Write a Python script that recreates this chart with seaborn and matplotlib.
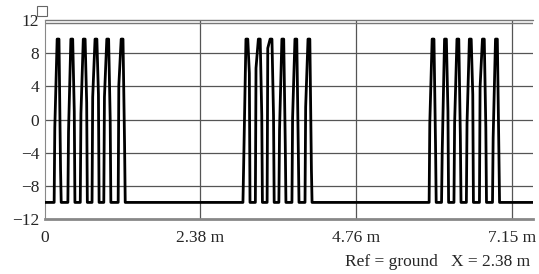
import numpy as np
import pandas as pd
import matplotlib
matplotlib.use("Agg")
import matplotlib.pyplot as plt
from matplotlib.ticker import AutoMinorLocator, FixedLocator
import seaborn as sns

# pulse centres (m) for the three bursts
burst_times = [
    [0.20, 0.41, 0.60, 0.78, 0.96, 1.18],
    [3.09, 3.28, 3.46, 3.64, 3.84, 4.04],
    [5.94, 6.13, 6.32, 6.51, 6.71, 6.91],
]
# shoulder levels (V) on the rising and falling edge of each pulse
rise_shoulder = [
    [-1.0, -1.5, 0.7, 2.7, 2.7, 4.1],
    [-5.9, 6.2, 8.6, -1.3, 0.2, 1.5],
    [-0.5, -4.0, -0.5, -0.5, 3.9, -2.2],
]
fall_shoulder = [
    [-6.0, 1.0, 2.0, 3.0, 0.0, -3.0],
    [5.6, 0.5, 0.5, -3.0, -4.0, -6.0],
    [-3.0, 1.0, -2.0, 3.0, -1.0, -4.0],
]
low_level = -10.0
high_level = 9.7
x_end = 7.47

xticks = [0, 2.38, 4.76, 7.15]
xtick_labels = ["0", "2.38 m", "4.76 m", "7.15 m"]
yticks = [-12, -8, -4, 0, 4, 8, 12]

# build the trace as a polyline
xs, ys = [0.0], [low_level]
for times, rs, fs in zip(burst_times, rise_shoulder, fall_shoulder):
    for t, r, f in zip(times, rs, fs):
        xs += [t - 0.06, t - 0.05, t - 0.014, t + 0.014, t + 0.038, t + 0.048]
        ys += [low_level, r, high_level, high_level, f, low_level]
xs.append(x_end)
ys.append(low_level)
trace = pd.DataFrame({"x": xs, "v": ys})

sns.set_style("white")
plt.rcParams["font.family"] = ["Liberation Serif", "DejaVu Serif"]

fig = plt.figure(figsize=(5.39, 2.74), dpi=100)
ax = fig.add_axes([45 / 539, 1 - 219 / 274, 488 / 539, 199 / 274])

grid_c = "#555555"
for y in [-8, -4, 0, 4, 8]:
    ax.axhline(y, color=grid_c, lw=0.9, zorder=1)
for x in xticks[1:]:
    ax.axvline(x, color=grid_c, lw=0.9, zorder=1)
ax.axhline(12, color="#777777", lw=1.0, zorder=1, clip_on=False)
ax.axhline(11.6, color="#777777", lw=1.0, zorder=1)

sns.lineplot(data=trace, x="x", y="v", sort=False, estimator=None,
             color="black", lw=2.0, ax=ax, zorder=3)
for ln in ax.lines:
    ln.set_solid_joinstyle("round")

ax.set_xlim(0, x_end)
ax.set_ylim(-12, 12)
ax.set_xlabel("")
ax.set_ylabel("")

for s in ["top", "right"]:
    ax.spines[s].set_visible(False)
ax.spines["left"].set_color("#888888")
ax.spines["left"].set_linewidth(0.8)
ax.spines["bottom"].set_color("#888888")
ax.spines["bottom"].set_linewidth(2.0)

ax.xaxis.set_major_locator(FixedLocator(xticks))
ax.set_xticklabels(xtick_labels, fontsize=12.5)
ax.yaxis.set_major_locator(FixedLocator(yticks))
ax.set_yticklabels([str(v).replace("-", "\u2212") for v in yticks], fontsize=12.5)
ax.xaxis.set_minor_locator(AutoMinorLocator(5))
ax.yaxis.set_minor_locator(AutoMinorLocator(5))
ax.tick_params(axis="both", which="major", length=0, pad=4)
ax.tick_params(axis="both", which="minor", direction="in", length=3,
               color="#888888", width=0.8)
ax.tick_params(axis="x", which="major", pad=8)

fig.text(530 / 539, 1 - 262 / 274, "Ref = ground   X = 2.38 m",
         ha="right", va="center", fontsize=12.5)

# small marker icon at the top-left corner
icon = plt.Rectangle((37 / 539, 1 - 16 / 274), 10 / 539, 10 / 274,
                     transform=fig.transFigure, fill=False,
                     edgecolor="#666666", lw=0.8)
fig.patches.append(icon)

fig.savefig("out.png", dpi=100)
